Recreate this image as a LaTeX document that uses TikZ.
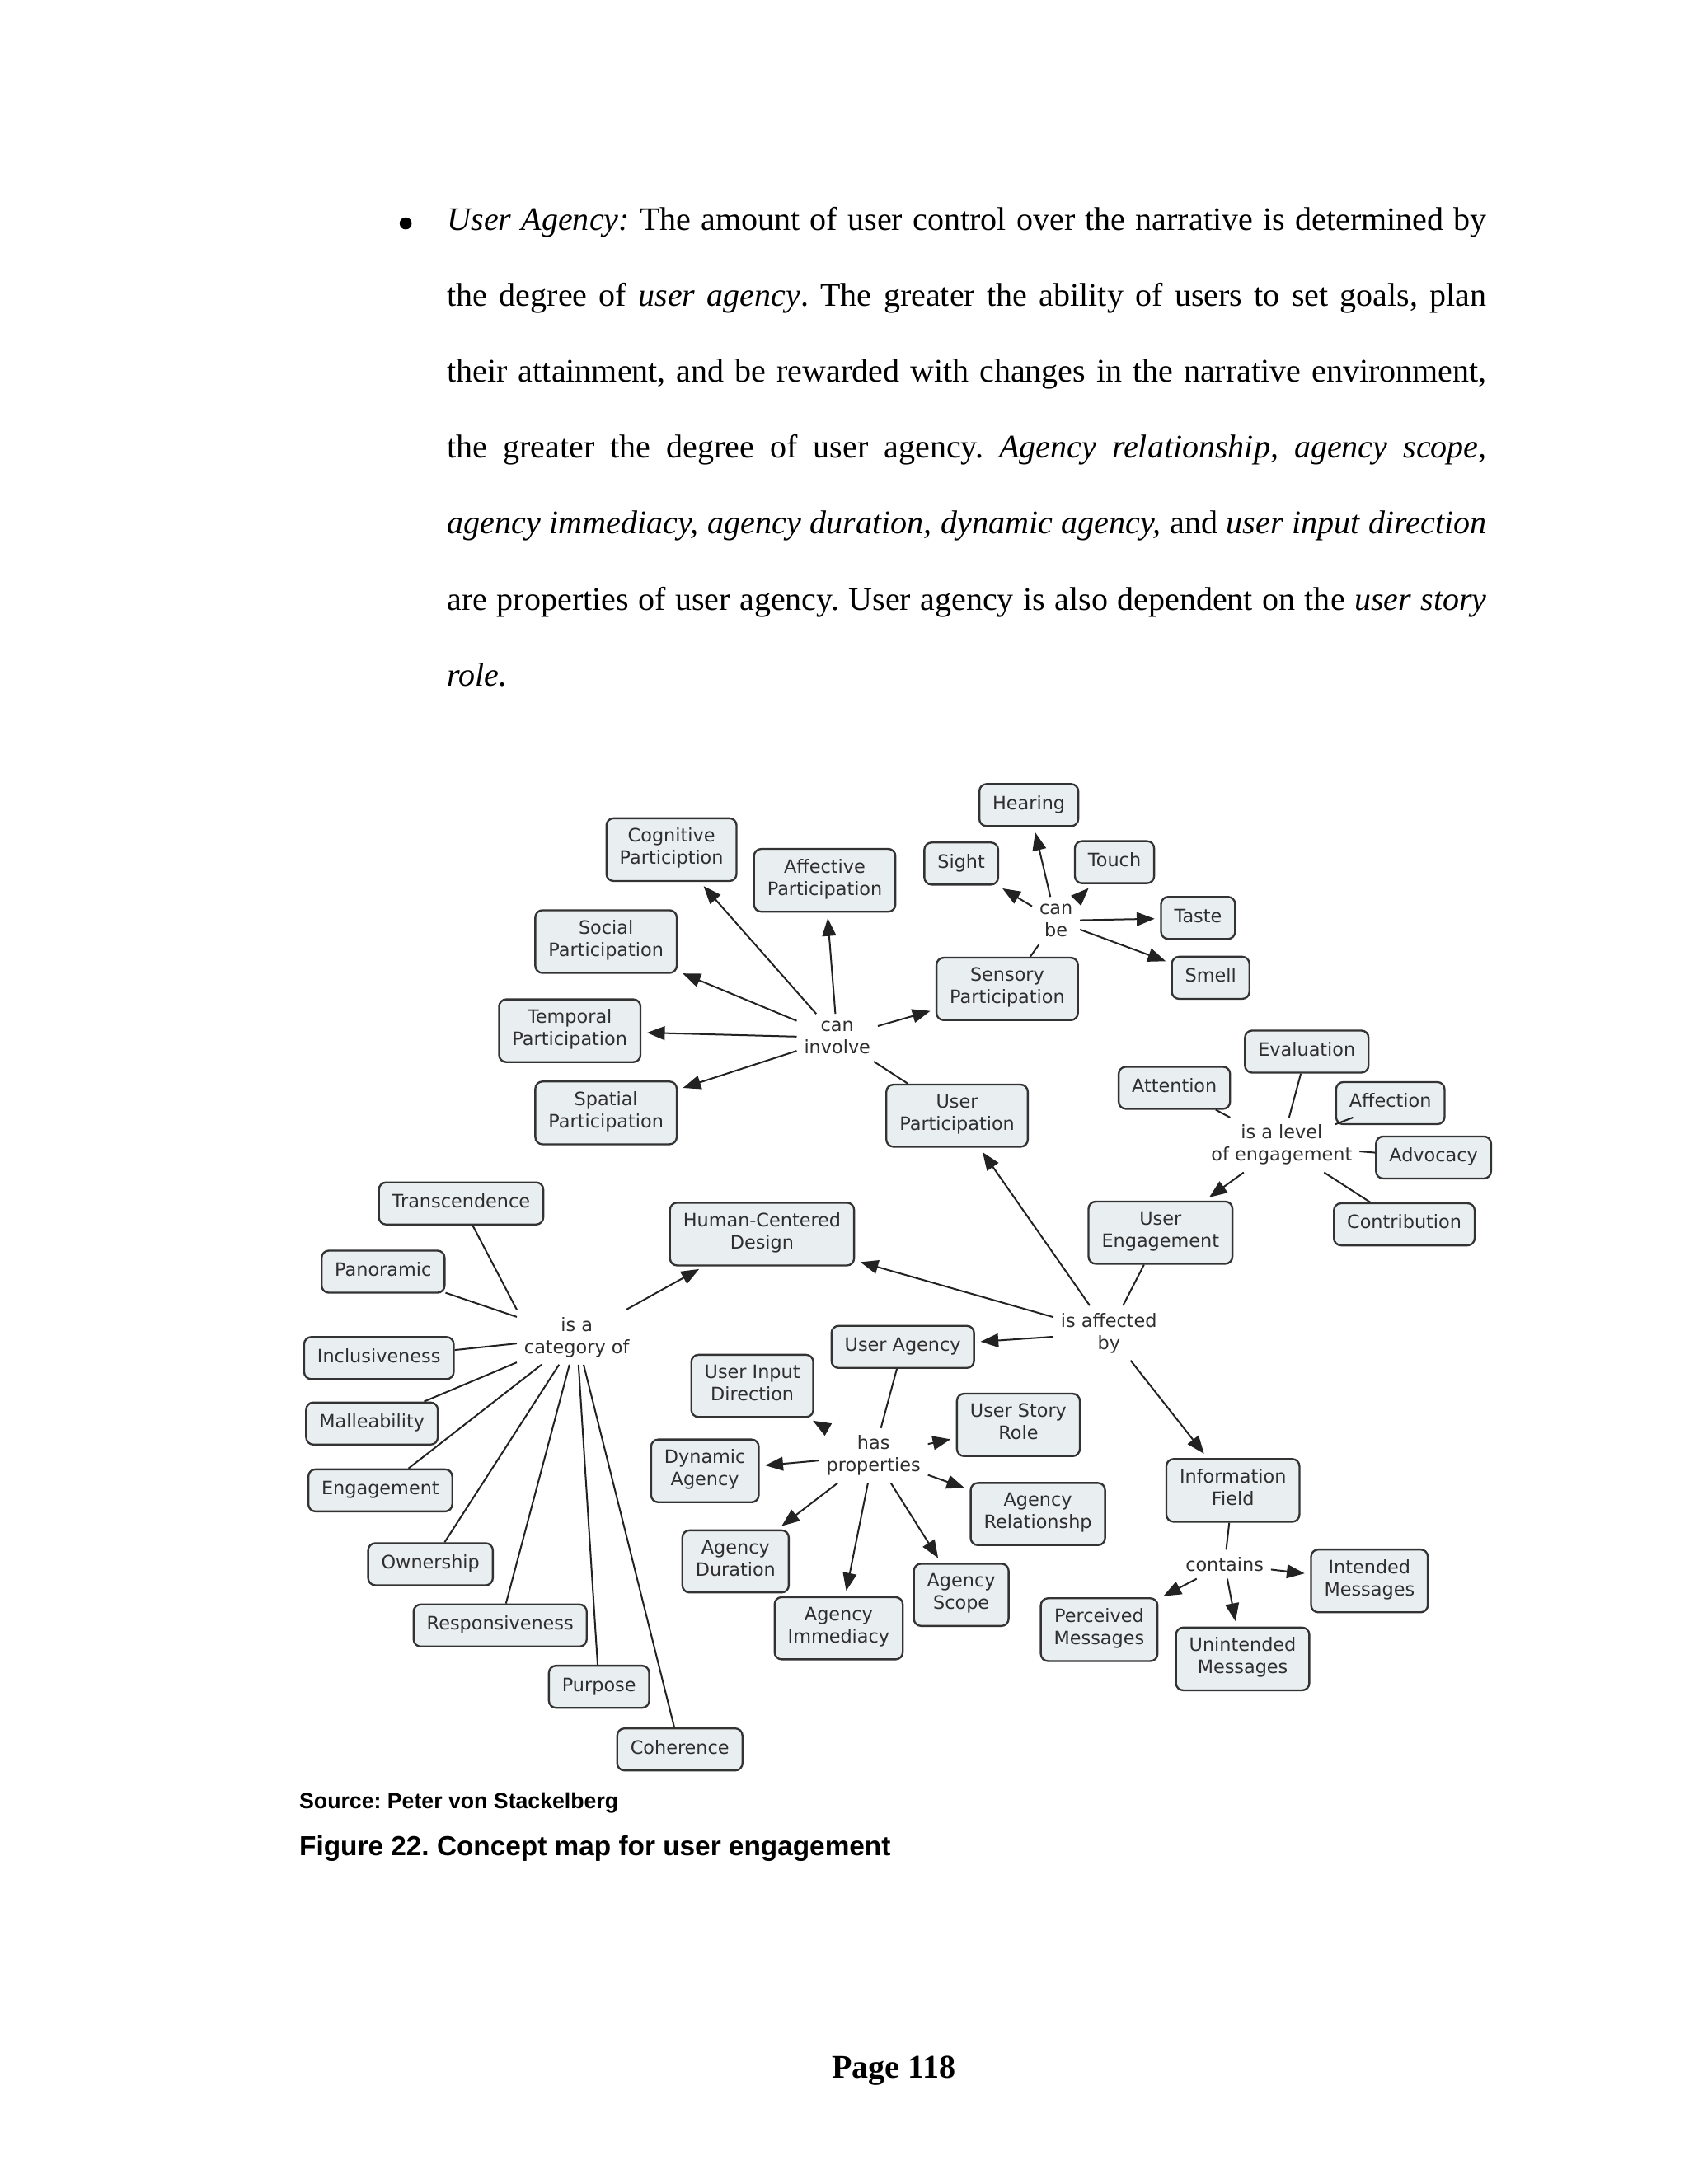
\documentclass[tikz,border=0pt]{standalone}
\usepackage{fontspec}
\setmainfont{Liberation Serif}
\newfontfamily\mapfont{DejaVu Sans}
\newfontfamily\capfont{Liberation Sans}
\usetikzlibrary{arrows.meta}
\frenchspacing
\definecolor{boxfill}{HTML}{E9EFF1}
\definecolor{boxline}{HTML}{333333}
\definecolor{maptext}{HTML}{2E2E2E}
\definecolor{mapline}{HTML}{222222}
\newcommand{\mapsize}{\mapfont\fontsize{6.7}{8.1}\selectfont}
\tikzset{
  concept/.style={draw=boxline, fill=boxfill, line width=0.7pt, rounded corners=2.6pt,
    inner xsep=4.8pt, inner ysep=3.6pt, align=center, text=maptext, font=\mapsize,
    execute at begin node=\strut, execute at end node=\strut},
  link/.style={inner sep=2.5pt, align=center, text=maptext, font=\mapsize},
  conn/.style={draw=mapline, line width=0.6pt},
  arr/.style={conn, -{Triangle[length=6.5pt,width=5pt]}, shorten >=2pt},
}
\begin{document}
\begin{tikzpicture}[x=0.0178135cm, y=-0.0178135cm]
\useasboundingbox[fill=white] (0,0) rectangle (1212,1568);
% Paragraph
\fill (291.2,160.4) circle (2.2pt);
\node[anchor=base west, text width=378pt, align=justify, inner sep=0pt,
  font=\fontsize{12}{27.6}\selectfont] (para) at (320.7,165.5)
{\emph{User Agency:} The amount of user control over the narrative is determined by\linebreak
the degree of \emph{user agency}. The greater the ability of users to set goals, plan\linebreak
their attainment, and be rewarded with changes in the narrative environment,\linebreak
the greater the degree of user agency. \emph{Agency relationship, agency scope,}\linebreak
\emph{agency immediacy, agency duration, dynamic agency,} and \emph{user input direction}\linebreak
are properties of user agency. User agency is also dependent on the \emph{user story}\linebreak
\emph{role.}};

% Senses
\node[concept] (hearing) at (738.5,578) {Hearing};
\node[concept] (sight) at (690,620) {Sight};
\node[concept] (touch) at (800,619) {Touch};
\node[concept] (taste) at (860,659) {Taste};
\node[concept] (smell) at (869,702) {Smell};
\node[link] (canbe) at (758,661) {can\\be};
\node[concept] (sensory) at (723,710) {Sensory\\Participation};

% Participation
\node[concept] (cognitive) at (482,610) {Cognitive\\Particiption};
\node[concept] (affective) at (592,632) {Affective\\Participation};
\node[concept] (social) at (435,676) {Social\\Participation};
\node[concept] (temporal) at (409,740) {Temporal\\Participation};
\node[concept] (spatial) at (435,799) {Spatial\\Participation};
\node[link] (caninvolve) at (601,745) {can\\involve};
\node[concept] (userpart) at (687,801) {User\\Participation};

% Levels of engagement
\node[concept] (evaluation) at (938,755) {Evaluation};
\node[concept] (attention) at (843,781) {Attention};
\node[concept] (affection) at (998,792) {Affection};
\node[concept] (advocacy) at (1029,831) {Advocacy};
\node[concept] (contribution) at (1008,879) {Contribution};
\node[link] (islevel) at (920,822) {is a level\\of engagement};
\node[concept] (userengage) at (833,885) {User\\Engagement};

% Categories
\node[concept] (transcend) at (331,864) {Transcendence};
\node[concept] (panoramic) at (275,913) {Panoramic};
\node[concept] (inclusive) at (272,975) {Inclusiveness};
\node[concept] (malleab) at (267,1022) {Malleability};
\node[concept] (engagement) at (273,1070) {Engagement};
\node[concept] (ownership) at (309,1123) {Ownership};
\node[concept] (responsive) at (359,1167) {Responsiveness};
\node[concept] (purpose) at (430,1211) {Purpose};
\node[concept] (coherence) at (488,1256) {Coherence};
\node[link] (iscategory) at (414,960) {is a\\category of};
\node[concept] (hcd) at (547,886) {Human-Centered\\Design};
\node[link] (affected) at (796,957) {is affected\\by};

% Agency
\node[concept] (useragency) at (648,967) {User Agency};
\node[concept] (inputdir) at (540,995) {User Input\\Direction};
\node[link] (hasprop) at (627,1045) {has\\properties};
\node[concept] (storyrole) at (731,1023) {User Story\\Role};
\node[concept] (dynamic) at (506,1056) {Dynamic\\Agency};
\node[concept] (relation) at (745,1087) {Agency\\Relationshp};
\node[concept] (duration) at (528,1121) {Agency\\Duration};
\node[concept] (scope) at (690,1145) {Agency\\Scope};
\node[concept] (immediacy) at (602,1169) {Agency\\Immediacy};

% Information
\node[concept] (infofield) at (885,1070) {Information\\Field};
\node[link] (contains) at (879,1123) {contains};
\node[concept] (intended) at (983,1135) {Intended\\Messages};
\node[concept] (perceived) at (789,1170) {Perceived\\Messages};
\node[concept] (unintended) at (892,1191) {Unintended\\Messages};

% Links
\draw[conn] (sensory) -- (canbe);
\foreach \t in {hearing,sight,touch,taste,smell}
  \draw[arr] (canbe) -- (\t);
\draw[conn] (userpart) -- (caninvolve);
\foreach \t in {cognitive,affective,social,temporal,spatial,sensory}
  \draw[arr] (caninvolve) -- (\t);
\draw[conn] (userengage) -- (affected);
\foreach \t in {userpart,hcd,useragency,infofield}
  \draw[arr] (affected) -- (\t);
\foreach \s in {attention,evaluation,affection,advocacy,contribution}
  \draw[conn] (\s) -- (islevel);
\draw[arr] (islevel) -- (userengage);
\draw[conn] (transcend) -- (iscategory.north west);
\foreach \s in {panoramic,inclusive,malleab,engagement,ownership,responsive,purpose,coherence}
  \draw[conn] (\s) -- (iscategory);
\draw[arr] (iscategory) -- (hcd);
\draw[conn] (useragency) -- (hasprop);
\foreach \t in {inputdir,storyrole,dynamic,relation,duration,scope,immediacy}
  \draw[arr] (hasprop) -- (\t);
\draw[conn] (infofield) -- (contains);
\foreach \t in {intended,perceived,unintended}
  \draw[arr] (contains) -- (\t);

% Caption
\node[anchor=base west, inner sep=0pt, font=\capfont\bfseries\fontsize{8}{9.6}\selectfont]
  (source) at (214.5,1298.5) {Source: Peter von Stackelberg};
\node[anchor=base west, inner sep=0pt, font=\capfont\bfseries\fontsize{10}{12}\selectfont]
  (figcap) at (214.5,1332) {Figure 22. Concept map for user engagement};
% Page number
\node[anchor=base, inner sep=0pt, font=\bfseries\fontsize{12}{14}\selectfont]
  (pagenum) at (641.5,1492) {Page 118};
\end{tikzpicture}
\end{document}
